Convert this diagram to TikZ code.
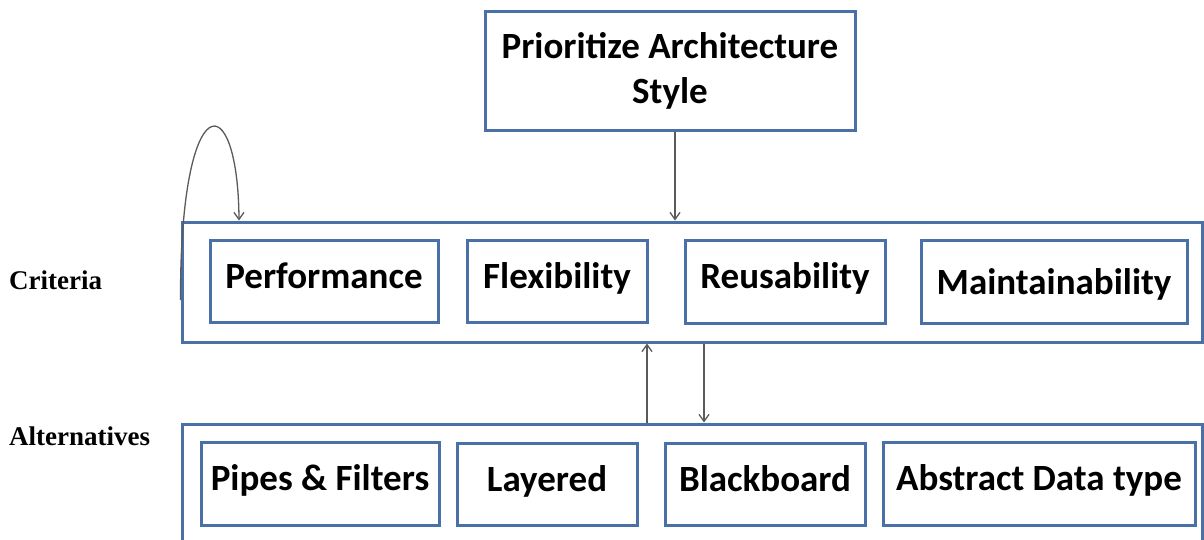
\documentclass[tikz,border=0pt]{standalone}
\usepackage{fontspec}
\setmainfont{Liberation Serif}
\newfontfamily\calfont{Carlito}
\usetikzlibrary{arrows.meta}
\definecolor{boxblue}{HTML}{4A70A8}
\definecolor{arrowgray}{HTML}{5A5A5A}
\tikzset{
    itembox/.style={draw=boxblue, line width=3pt, inner sep=0pt,
        text height=24pt, text depth=10pt,
        font=\calfont\bfseries\fontsize{37}{45}\selectfont},
    groupbox/.style={draw=boxblue, line width=3pt, inner sep=0pt},
    arr/.style={draw=arrowgray, line width=1.3pt, -{Straight Barb[length=7pt,width=10pt]}},
    sidelabel/.style={anchor=base west, inner sep=0pt,
        font=\bfseries\fontsize{27}{30}\selectfont}
}
\begin{document}
\begin{tikzpicture}[x=1pt,y=-1pt]
        \useasboundingbox (0,0) rectangle (1204,539);
        \clip (0,0) rectangle (1204,539);

        \node[draw=boxblue, line width=3pt, minimum width=370pt, minimum height=119pt, align=center,
            font=\calfont\bfseries\fontsize{37}{45}\selectfont]
            (prioritize) at (670,70.5) {\raisebox{-3pt}{Prioritize Architecture}\\\raisebox{-3pt}{Style}};

        \node[groupbox, minimum width=1020pt, minimum height=120pt] (criteriaBox) at (692,282) {};
        \node[groupbox, minimum width=1020pt, minimum height=190pt] (alternativesBox) at (692,519) {};

        \node[sidelabel] (criteriaLabel) at (9,289) {Criteria};
        \node[sidelabel] (alternativesLabel) at (9,445) {Alternatives};

        \node[itembox, minimum width=228pt, minimum height=82pt] (performance) at (324,281) {Performance};
        \node[itembox, minimum width=180pt, minimum height=82pt] (flexibility) at (557,281) {Flexibility};
        \node[itembox, minimum width=200pt, minimum height=83pt] (reusability) at (785,281.5) {Reusability};
        \node[itembox, minimum width=266pt, minimum height=83pt] (maintainability) at (1054,281.5) {\raisebox{-6pt}{Maintainability}};

        \node[itembox, minimum width=238pt, minimum height=83pt] (pipesFilters) at (320,483.5) {Pipes \& Filters};
        \node[itembox, minimum width=180pt, minimum height=82pt] (layered) at (547,484) {Layered};
        \node[itembox, minimum width=200pt, minimum height=82pt] (blackboard) at (765,484) {Blackboard};
        \node[itembox, minimum width=312pt, minimum height=83pt] (abstractData) at (1039,483.5) {Abstract Data type};

        \coordinate (loopStart) at ([yshift=-18pt]criteriaBox.west);
        \coordinate (loopEnd) at ([xshift=-453pt]criteriaBox.north);

        \draw[arr] ([xshift=5pt]prioritize.south) -- ([xshift=-17pt]criteriaBox.north);
        \draw[arr] ([xshift=-45pt]alternativesBox.north) -- ([xshift=-45pt]criteriaBox.south);
        \draw[arr] ([xshift=12pt]criteriaBox.south) -- ([xshift=12pt]alternativesBox.north);
        \draw[arr] (loopStart) .. controls (180,84) and (238,84) .. (loopEnd);
    \end{tikzpicture}
\end{document}
